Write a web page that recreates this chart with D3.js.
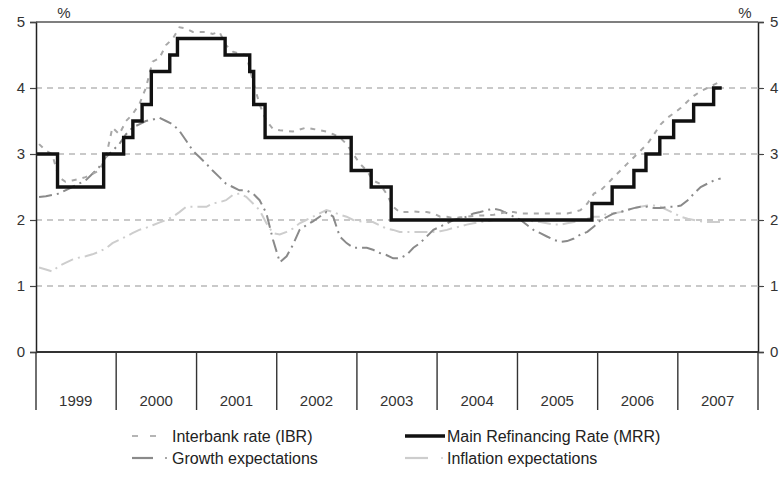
<!DOCTYPE html>
<html>
<head>
<meta charset="utf-8">
<script src="https://cdn.jsdelivr.net/npm/d3@7"></script>
<style>
  body { margin: 0; background: #fff; }
  svg { font-family: "Liberation Sans", Arial, sans-serif; }
</style>
</head>
<body>
<svg id="chart" width="784" height="477"></svg>
<script>
// data (monthly averages, Jan 1999 onwards)
const years = [1999, 2000, 2001, 2002, 2003, 2004, 2005, 2006, 2007];
const yTicks = [0, 1, 2, 3, 4, 5];

const ibr = [
  3.15, 3.05, 3.0, 2.65, 2.58, 2.6, 2.62, 2.65, 2.7, 2.75, 2.95, 3.4,
  3.3, 3.5, 3.6, 3.75, 4.0, 4.4, 4.45, 4.65, 4.75, 4.92, 4.9, 4.85,
  4.85, 4.85, 4.82, 4.85, 4.65, 4.55, 4.52, 4.5, 4.1, 3.75, 3.5, 3.38,
  3.36, 3.35, 3.34, 3.37, 3.4, 3.38, 3.36, 3.34, 3.3, 3.25, 3.15, 3.0,
  2.85, 2.75, 2.6, 2.55, 2.4, 2.2, 2.12, 2.12, 2.13, 2.12, 2.12, 2.1,
  2.05, 2.05, 2.03, 2.04, 2.05, 2.06, 2.07, 2.07, 2.08, 2.1, 2.12, 2.12,
  2.1, 2.1, 2.1, 2.1, 2.1, 2.1, 2.1, 2.1, 2.12, 2.15, 2.25, 2.4,
  2.45, 2.55, 2.65, 2.75, 2.85, 2.95, 3.05, 3.15, 3.3, 3.45, 3.55, 3.62,
  3.7, 3.8, 3.88, 3.95, 4.0, 4.05, 4.1
];
const growth = [
  2.35, 2.36, 2.38, 2.4, 2.45, 2.5, 2.55, 2.6, 2.7, 2.8, 2.95, 3.05,
  3.15, 3.3, 3.4, 3.45, 3.5, 3.52, 3.55, 3.5, 3.45, 3.35, 3.2, 3.05,
  2.95, 2.85, 2.75, 2.65, 2.55, 2.5, 2.45, 2.45, 2.4, 2.3, 2.1, 1.7,
  1.36, 1.45, 1.62, 1.85, 1.92, 1.98, 2.05, 2.12, 2.05, 1.75, 1.65, 1.58,
  1.58, 1.58, 1.55, 1.5, 1.47, 1.42, 1.42, 1.47, 1.58, 1.65, 1.75, 1.85,
  1.9, 1.95, 2.0, 2.02, 2.05, 2.1, 2.12, 2.15, 2.17, 2.15, 2.1, 2.05,
  2.0, 1.92, 1.85, 1.8, 1.75, 1.7, 1.67, 1.68, 1.72, 1.78, 1.82, 1.9,
  2.0, 2.05, 2.1, 2.12, 2.15, 2.18, 2.2, 2.2, 2.18, 2.18, 2.2, 2.2,
  2.22, 2.3, 2.4, 2.5, 2.55, 2.6, 2.63
];
const inflation = [
  1.28, 1.25, 1.22, 1.3, 1.35, 1.4, 1.43, 1.45, 1.48, 1.52, 1.57, 1.65,
  1.7, 1.75, 1.8, 1.85, 1.88, 1.92, 1.96, 2.0, 2.05, 2.12, 2.2, 2.2,
  2.2, 2.2, 2.25, 2.27, 2.3, 2.38, 2.4, 2.35, 2.25, 2.15, 1.95, 1.8,
  1.78, 1.82, 1.87, 1.95, 2.0, 2.05, 2.1, 2.15, 2.12, 2.08, 2.05, 2.0,
  1.98, 1.97, 1.97, 1.92, 1.87, 1.85, 1.82, 1.82, 1.82, 1.82, 1.82, 1.82,
  1.83, 1.85, 1.88, 1.9, 1.93, 1.95, 1.97, 1.98, 2.0, 2.0, 2.0, 2.0,
  2.0, 2.0, 1.98, 1.97, 1.95, 1.93, 1.93, 1.95, 1.97, 2.0, 2.02, 2.05,
  2.05, 2.1, 2.1, 2.12, 2.15, 2.18, 2.2, 2.22, 2.22, 2.2, 2.15, 2.1,
  2.05, 2.02, 2.0, 1.98, 1.97, 1.97, 1.97
];

const mrrDates = [
  '1999-01-01', '1999-04-09', '1999-11-05', '2000-02-04', '2000-03-17',
  '2000-04-28', '2000-06-09', '2000-09-01', '2000-10-06', '2001-05-11',
  '2001-08-31', '2001-09-18', '2001-11-09', '2002-12-06', '2003-03-07',
  '2003-06-06', '2005-12-06', '2006-03-08', '2006-06-15', '2006-08-09',
  '2006-10-11', '2006-12-13', '2007-03-14', '2007-06-13', '2007-07-20'
];
const mrrRates = [
  3.0, 2.5, 3.0, 3.25, 3.5, 3.75, 4.25, 4.5, 4.75, 4.5, 4.25, 3.75, 3.25,
  2.75, 2.5, 2.0, 2.25, 2.5, 2.75, 3.0, 3.25, 3.5, 3.75, 4.0, 4.0
];

const svg = d3.select('#chart');
const margin = { top: 22, right: 26, bottom: 125, left: 36 };
const width = 784 - margin.left - margin.right;
const height = 477 - margin.top - margin.bottom;
const g = svg.append('g').attr('transform', `translate(${margin.left},${margin.top})`);
const fontSize = '15px';

const x = d3.scaleTime()
  .domain([new Date(1999, 0, 1), new Date(2008, 0, 1)])
  .range([0, width]);
const y = d3.scaleLinear().domain([0, 5]).range([height, 0]);

const monthDate = (i) => new Date(1999, i, 15);

// grid lines
g.selectAll('line.grid')
  .data(yTicks.filter(d => d > 0 && d < 5))
  .enter()
  .append('line')
  .classed('grid', true)
  .attr('x1', 0)
  .attr('x2', width)
  .attr('y1', d => y(d))
  .attr('y2', d => y(d))
  .style('stroke', '#b8b8b8')
  .style('stroke-width', 1.5)
  .style('stroke-dasharray', '6,5');

const line = d3.line()
  .x((d, i) => x(monthDate(i)))
  .y(d => y(d));

g.append('path')
  .datum(inflation)
  .attr('d', line)
  .style('fill', 'none')
  .style('stroke', '#cdcdcd')
  .style('stroke-width', 2)
  .style('stroke-dasharray', '13,5,2,5');

g.append('path')
  .datum(growth)
  .attr('d', line)
  .style('fill', 'none')
  .style('stroke', '#8a8a8a')
  .style('stroke-width', 2)
  .style('stroke-dasharray', '13,5,2,5');

g.append('path')
  .datum(ibr)
  .attr('d', line)
  .style('fill', 'none')
  .style('stroke', '#a8a8a8')
  .style('stroke-width', 2)
  .style('stroke-dasharray', '5,6');

// main refinancing rate, step line
const mrr = mrrDates.map((d, i) => ({ date: d3.timeParse('%Y-%m-%d')(d), v: mrrRates[i] }));
g.append('path')
  .datum(mrr)
  .attr('d', d3.line().curve(d3.curveStepAfter).x(d => x(d.date)).y(d => y(d.v)))
  .style('fill', 'none')
  .style('stroke', '#111')
  .style('stroke-width', 3.4);

// axes
const yLeft = g.append('g')
  .call(d3.axisLeft(y).tickValues(yTicks).tickSize(6).tickPadding(5).tickFormat(d3.format('d')));
const yRight = g.append('g')
  .attr('transform', `translate(${width},0)`)
  .call(d3.axisRight(y).tickValues(yTicks).tickSize(6).tickPadding(6).tickFormat(d3.format('d')));
[yLeft, yRight].forEach((ax) => {
  ax.select('.domain').style('stroke', '#222').style('stroke-width', 1.5);
  ax.selectAll('.tick line').style('stroke', '#444').style('stroke-width', 1.2);
  ax.selectAll('.tick text').style('font-size', fontSize).style('fill', '#333');
});

// top frame line
g.append('line')
  .attr('x1', 0).attr('x2', width).attr('y1', 0).attr('y2', 0)
  .style('stroke', '#555').style('stroke-width', 1.5);

// bottom axis with year boxes
g.append('line')
  .attr('x1', 0).attr('x2', width).attr('y1', height).attr('y2', height)
  .style('stroke', '#333').style('stroke-width', 1.8);

const yearBounds = years.concat([2008]);
g.selectAll('line.year')
  .data(yearBounds)
  .enter()
  .append('line')
  .classed('year', true)
  .attr('x1', d => x(new Date(d, 0, 1)))
  .attr('x2', d => x(new Date(d, 0, 1)))
  .attr('y1', height)
  .attr('y2', height + 58)
  .style('stroke', '#333')
  .style('stroke-width', 1.4);

g.selectAll('text.year')
  .data(years)
  .enter()
  .append('text')
  .classed('year', true)
  .attr('x', d => x(new Date(d, 6, 1)))
  .attr('y', height + 54)
  .attr('text-anchor', 'middle')
  .style('font-size', fontSize)
  .style('fill', '#333')
  .text(d => d);

// unit labels
svg.append('text').attr('x', 64).attr('y', 18).attr('text-anchor', 'middle')
  .style('font-size', fontSize).style('fill', '#333').text('%');
svg.append('text').attr('x', 745).attr('y', 18).attr('text-anchor', 'middle')
  .style('font-size', fontSize).style('fill', '#333').text('%');

// legend
const legend = [
  { name: 'Interbank rate (IBR)', x: 132, y: 436, color: '#b5b5b5', w: 25, dash: '6,12', width: 2, dot: null },
  { name: 'Main Refinancing Rate (MRR)', x: 405, y: 436, color: '#111', w: 40, dash: null, width: 3.4, dot: null },
  { name: 'Growth expectations', x: 132, y: 458, color: '#8a8a8a', w: 21, dash: null, width: 2.2, dot: 166 },
  { name: 'Inflation expectations', x: 405, y: 458, color: '#cdcdcd', w: 23, dash: null, width: 2.2, dot: 442 },
];
const lg = svg.selectAll('g.legend')
  .data(legend)
  .enter()
  .append('g')
  .classed('legend', true);

lg.append('line')
  .attr('x1', d => d.x)
  .attr('x2', d => d.x + d.w)
  .attr('y1', d => d.y)
  .attr('y2', d => d.y)
  .style('stroke', d => d.color)
  .style('stroke-width', d => d.width)
  .style('stroke-dasharray', d => d.dash);

lg.filter(d => d.dot)
  .append('circle')
  .attr('cx', d => d.dot)
  .attr('cy', d => d.y)
  .attr('r', 1)
  .style('fill', d => d.color);

lg.append('text')
  .attr('x', d => (d.x < 300 ? 172 : 447))
  .attr('y', d => d.y + 5.5)
  .style('font-size', '16px')
  .style('fill', '#222')
  .text(d => d.name);
</script>
</body>
</html>
